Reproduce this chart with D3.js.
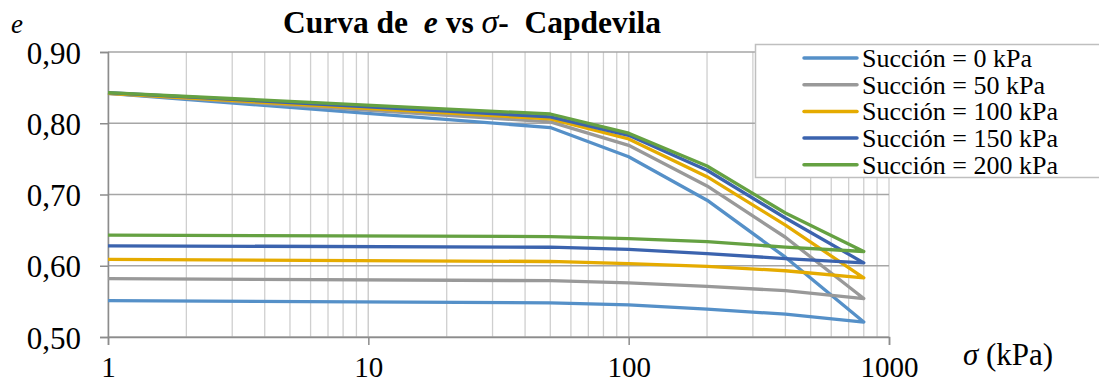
<!DOCTYPE html>
<meta charset="utf-8">
<style>
body { margin: 0; background: #fff; }
svg { font-family: "Liberation Serif", "Times New Roman", serif; }
.grid-y line { stroke: #a6a6a6; stroke-width: 1.3px; }
.grid-x line { stroke: #cfcfcf; stroke-width: 1.3px; }
.serie { fill: none; stroke-width: 3.3px; stroke-linejoin: round; }
</style>
<svg width="1099" height="385"></svg>
<script src="https://d3js.org/d3.v7.min.js"></script>
<script>

// esfuerzos (kPa): carga y luego descarga
var sigma = [1, 50, 100, 200, 400, 800, 400, 200, 100, 50, 1];

var succiones = ["Succión = 0 kPa", "Succión = 50 kPa", "Succión = 100 kPa", "Succión = 150 kPa", "Succión = 200 kPa"];

var e0   = [0.842, 0.794, 0.753, 0.692, 0.612, 0.521, 0.532, 0.539, 0.545, 0.548, 0.551];
var e50  = [0.842, 0.802, 0.769, 0.712, 0.640, 0.554, 0.565, 0.571, 0.576, 0.579, 0.582];
var e100 = [0.842, 0.806, 0.778, 0.725, 0.657, 0.583, 0.593, 0.599, 0.603, 0.606, 0.609];
var e150 = [0.843, 0.809, 0.783, 0.734, 0.667, 0.604, 0.610, 0.617, 0.623, 0.626, 0.628];
var e200 = [0.843, 0.813, 0.786, 0.740, 0.674, 0.620, 0.626, 0.634, 0.638, 0.641, 0.643];

var yTicks = [0.5, 0.6, 0.7, 0.8, 0.9];
var xTicks = [1, 10, 100, 1000];

var colores = ["#5590c8", "#999999", "#e5ab00", "#3b63ae", "#65a142"];
var series = [e0, e50, e100, e150, e200];

var svg = d3.select("svg");
var mLeft = 108, mRight = 889, mTop = 52, mBottom = 337;

var x = d3.scaleLog().domain([1, 1000]).range([mLeft, mRight]);
var y = d3.scaleLinear().domain([0.5, 0.9]).range([mBottom, mTop]);

var coma = function(d) { return d3.format(".2f")(d).replace(".", ","); };

// lineas verticales (menores y mayores)
var minors = [];
[1, 10, 100].forEach(function(dec) {
  for (var k = 1; k <= 10; k++) minors.push(dec * k);
});
svg.append("g").attr("class", "grid-x")
  .selectAll("line").data(minors).enter().append("line")
    .attr("x1", function(d) { return x(d); })
    .attr("x2", function(d) { return x(d); })
    .attr("y1", mTop).attr("y2", mBottom);

svg.append("g").attr("class", "grid-y")
  .selectAll("line").data(yTicks).enter().append("line")
    .attr("x1", mLeft).attr("x2", mRight)
    .attr("y1", function(d) { return y(d); })
    .attr("y2", function(d) { return y(d); });

// ejes
var gy = svg.append("g").attr("transform", "translate(" + mLeft + ",0)")
  .call(d3.axisLeft(y).tickValues(yTicks).tickFormat(coma).tickSize(8).tickPadding(19));
var gx = svg.append("g").attr("transform", "translate(0," + mBottom + ")")
  .call(d3.axisBottom(x).tickValues(xTicks).tickFormat(d3.format("d")).tickSize(8));
[gx, gy].forEach(function(g) {
  g.select(".domain").attr("stroke", "#8c8c8c").attr("stroke-width", 1.5);
  g.selectAll(".tick line").attr("stroke", "#8c8c8c").attr("stroke-width", 1.5);
  g.selectAll("text").attr("font-family", "Liberation Serif").attr("font-size", 31).attr("fill", "#000");
});
gx.selectAll("text").attr("y", 40).attr("dy", 0).attr("font-size", 29);
gy.selectAll("text").attr("dy", "0.36em");

// curvas
var line = d3.line()
  .x(function(d, i) { return x(sigma[i]); })
  .y(function(d) { return y(d); });

svg.append("g").selectAll("path").data(series).enter().append("path")
  .attr("class", "serie")
  .attr("stroke", function(d, i) { return colores[i]; })
  .attr("d", line);

// titulo
var title = svg.append("text")
  .attr("x", 472).attr("y", 33).attr("text-anchor", "middle")
  .attr("font-size", 31.5).attr("font-weight", "bold")
  .style("white-space", "pre");
title.append("tspan").text("Curva de ");
title.append("tspan").attr("font-style", "italic").text(" e");
title.append("tspan").text(" vs ");
title.append("tspan").attr("font-style", "italic").attr("font-weight", "normal").attr("font-size", 34).text("σ");
title.append("tspan").text("-  Capdevila");

svg.append("text").attr("x", 11).attr("y", 33)
  .attr("font-size", 27).attr("font-style", "italic").text("e");

var xt = svg.append("text").attr("x", 963).attr("y", 365).attr("font-size", 31);
xt.append("tspan").attr("font-style", "italic").text("σ");
xt.append("tspan").text(" (kPa)");

// leyenda
var leg = svg.append("g");
leg.append("rect")
  .attr("x", 755.5).attr("y", 44.5).attr("width", 360).attr("height", 133)
  .attr("fill", "#fff").attr("stroke", "#bfbfbf").attr("stroke-width", 1.5);
var items = leg.selectAll("g.item").data(succiones).enter().append("g")
  .attr("transform", function(d, i) { return "translate(0," + (58 + i * 26.7) + ")"; });
items.append("line")
  .attr("x1", 804).attr("x2", 857)
  .attr("stroke", function(d, i) { return colores[i]; })
  .attr("stroke-width", 3.5).attr("stroke-linecap", "round");
items.append("text")
  .attr("x", 862).attr("y", 9)
  .attr("font-size", 26).text(function(d) { return d; });

</script>
